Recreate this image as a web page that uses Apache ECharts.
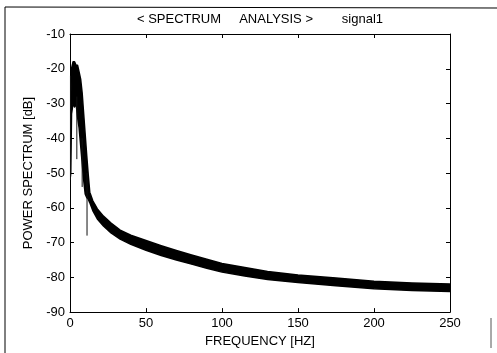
<!DOCTYPE html>
<html>
<head>
<meta charset="utf-8">
<script src="https://cdn.jsdelivr.net/npm/echarts@6/dist/echarts.min.js"></script>
<style>
  html, body { margin: 0; padding: 0; background: #fff; }
  #chart { width: 497px; height: 353px; }
</style>
</head>
<body>
<div id="chart"></div>
<script>
// spectrum band (Hz, upper edge dB, lower edge dB)
var freq = [0, 0.5, 1, 2, 3, 4, 5, 6, 7, 8, 9, 10, 11, 12, 13, 15, 18, 22, 27, 33, 40, 50, 60, 70, 80, 90, 100, 115, 130, 150, 175, 200, 225, 250];
var upper = [-48, -30, -20, -18, -18, -19, -19, -21, -23, -27, -33, -39, -45, -50.5, -55.5, -58, -60.3, -62.4, -64.4, -66.4, -67.9, -69.4, -70.9, -72.3, -73.6, -74.8, -76, -77.2, -78.3, -79.3, -80.2, -81.1, -81.6, -81.9];
var lower = [-52, -50, -33, -30, -31, -30, -34, -37, -42, -47, -52, -56, -57, -57.5, -58.5, -60.8, -63.2, -65.2, -67.2, -69, -70.5, -72.2, -73.7, -75, -76.2, -77.4, -78.5, -79.6, -80.6, -81.5, -82.4, -83.3, -83.8, -84.1];

// thin spikes below the band
var spikeFreq = [0.3, 4.5, 8, 11.2];
var spikeTop = [-22, -28, -40, -50];
var spikeBottom = [-52, -46, -54, -68];

var xTicks = [0, 50, 100, 150, 200, 250];
var yTicks = [-90, -80, -70, -60, -50, -40, -30, -20, -10];

var chartDom = document.getElementById('chart');
var myChart = echarts.init(chartDom, null, { renderer: 'canvas' });
var font = 'Liberation Sans';

// band drawn as one polygon: upper edge left->right, lower edge right->left
function renderBand(params, api) {
  if (params.dataIndex !== 0) return;
  var pts = [];
  for (var i = 0; i < freq.length; i++) pts.push(api.coord([freq[i], upper[i]]));
  for (var j = freq.length - 1; j >= 0; j--) pts.push(api.coord([freq[j], lower[j]]));
  return {
    type: 'polygon',
    shape: { points: pts },
    style: { fill: '#000', stroke: '#000', lineWidth: 1.5, lineJoin: 'round' }
  };
}

var series = [
  {
    type: 'custom',
    renderItem: renderBand,
    data: [[freq[0], upper[0]]],
    silent: true,
    clip: true
  }
];
spikeFreq.forEach(function (f, i) {
  series.push({
    type: 'line',
    data: [[f, spikeTop[i]], [f, spikeBottom[i]]],
    symbol: 'none',
    silent: true,
    lineStyle: { color: '#111', width: 1 }
  });
});

var axisCommon = {
  axisLine: { show: true, onZero: false, lineStyle: { color: '#000', width: 1 } },
  axisTick: { show: true, inside: true, length: 4, lineStyle: { color: '#000' } },
  splitLine: { show: false }
};

var option = {
  animation: false,
  backgroundColor: '#fff',
  grid: { left: 70, right: 47, top: 34, bottom: 36 },
  xAxis: [
    Object.assign({
      type: 'value', min: xTicks[0], max: xTicks[xTicks.length - 1], interval: 50,
      position: 'bottom',
      axisLabel: { color: '#000', fontSize: 13, fontFamily: font, margin: 5 },
      name: 'FREQUENCY [HZ]', nameLocation: 'middle', nameGap: 20,
      nameTextStyle: { color: '#000', fontSize: 13, fontFamily: font }
    }, axisCommon),
    Object.assign({
      type: 'value', min: 0, max: 250, interval: 50, position: 'top',
      axisLabel: { show: false }
    }, axisCommon)
  ],
  yAxis: [
    Object.assign({
      type: 'value', min: yTicks[0], max: yTicks[yTicks.length - 1], interval: 10,
      position: 'left',
      axisLabel: { color: '#000', fontSize: 13, fontFamily: font, margin: 5 },
      name: 'POWER SPECTRUM [dB]', nameLocation: 'middle', nameGap: 35,
      nameTextStyle: { color: '#000', fontSize: 13, fontFamily: font }
    }, axisCommon),
    Object.assign({
      type: 'value', min: -90, max: -10, interval: 10, position: 'right',
      axisLabel: { show: false }
    }, axisCommon)
  ],
  graphic: [
    {
      type: 'text', x: 260, y: 19,
      style: {
        text: '< SPECTRUM     ANALYSIS >        signal1',
        font: '13px ' + font, fill: '#000',
        align: 'center', verticalAlign: 'middle'
      }
    },
    { type: 'line', shape: { x1: 5, y1: 7, x2: 497, y2: 8 }, style: { stroke: '#000', lineWidth: 1 } },
    { type: 'line', shape: { x1: 5, y1: 7, x2: 5, y2: 353 }, style: { stroke: '#000', lineWidth: 1 } },
    { type: 'line', shape: { x1: 491, y1: 318, x2: 491, y2: 348 }, style: { stroke: '#555', lineWidth: 1 } }
  ],
  series: series
};

option && myChart.setOption(option);
</script>
</body>
</html>
